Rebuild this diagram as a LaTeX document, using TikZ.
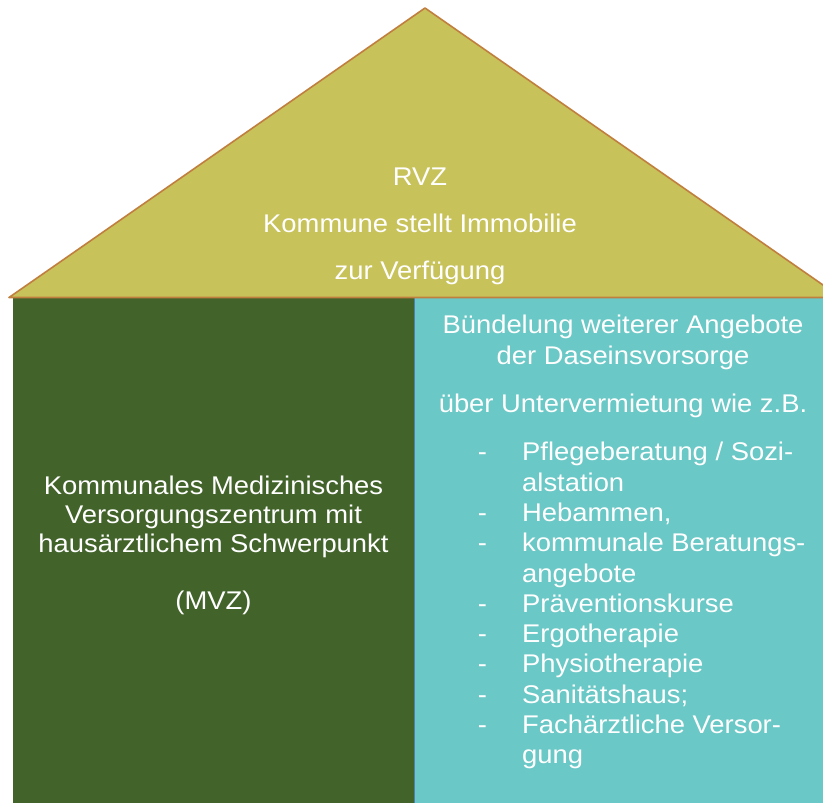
\documentclass[tikz,border=0pt]{standalone}
\usepackage{fontspec}
\setmainfont{Liberation Sans}[FakeStretch=1.07]
\definecolor{roof}{HTML}{C8C25A}
\definecolor{roofline}{HTML}{C07F3F}
\definecolor{mvzgreen}{HTML}{42632A}
\definecolor{cyanbox}{HTML}{6AC8C6}
\definecolor{divider}{HTML}{4F7FB0}
\begin{document}
\begin{tikzpicture}[x=1pt,y=-1pt,
  txt/.style={text=white,inner sep=0pt,font=\fontsize{25.6}{30.4}\selectfont},
  ctr/.style={txt,anchor=base},
  lft/.style={txt,anchor=base west}]
\useasboundingbox (0,0) rectangle (823,803);
\clip (0,0) rectangle (823,803);
% walls
\fill[mvzgreen] (13,298) rectangle (414.5,810);
\fill[cyanbox] (414.5,298) rectangle (830,810);
\draw[divider,line width=1pt] (414.5,298) -- (414.5,810);
% roof
\filldraw[fill=roof,draw=roofline,line width=1.6pt,line join=round] (425,8) -- (9,297.5) -- (841,297.5) -- cycle;
% roof text
\node[ctr] (r1) at (420,185) {RVZ};
\node[ctr] (r2) at (420,232) {Kommune stellt Immobilie};
\node[ctr] (r3) at (420,279) {zur Verfügung};
% left text
\node[ctr] (l1) at (213.5,494) {Kommunales Medizinisches};
\node[ctr] (l2) at (213.5,523) {Versorgungszentrum mit};
\node[ctr] (l3) at (213.5,552) {hausärztlichem Schwerpunkt};
\node[ctr] (l4) at (213.5,609) {(MVZ)};
% right text
\node[ctr] (c1) at (623,333) {Bündelung weiterer Angebote};
\node[ctr] (c2) at (623,364.5) {der Daseinsvorsorge};
\node[ctr] (c3) at (623,412) {über Untervermietung wie z.B.};
% list
\foreach \n/\y/\t/\d in {
  1/460.5/{Pflegeberatung / Sozi-}/1,
  2/491/{alstation}/0,
  3/521/{Hebammen,}/1,
  4/551.5/{kommunale Beratungs-}/1,
  5/582/{angebote}/0,
  6/612/{Präventionskurse}/1,
  7/642/{Ergotherapie}/1,
  8/672.5/{Physiotherapie}/1,
  9/703/{Sanitätshaus;}/1,
  10/733/{Fachärztliche Versor-}/1,
  11/763.5/{gung}/0}{
  \node[lft] (i\n) at (522,\y) {\t};
  \ifnum\d=1 \node[ctr] (d\n) at (482.5,\y) {-};\fi
}
\end{tikzpicture}
\end{document}
